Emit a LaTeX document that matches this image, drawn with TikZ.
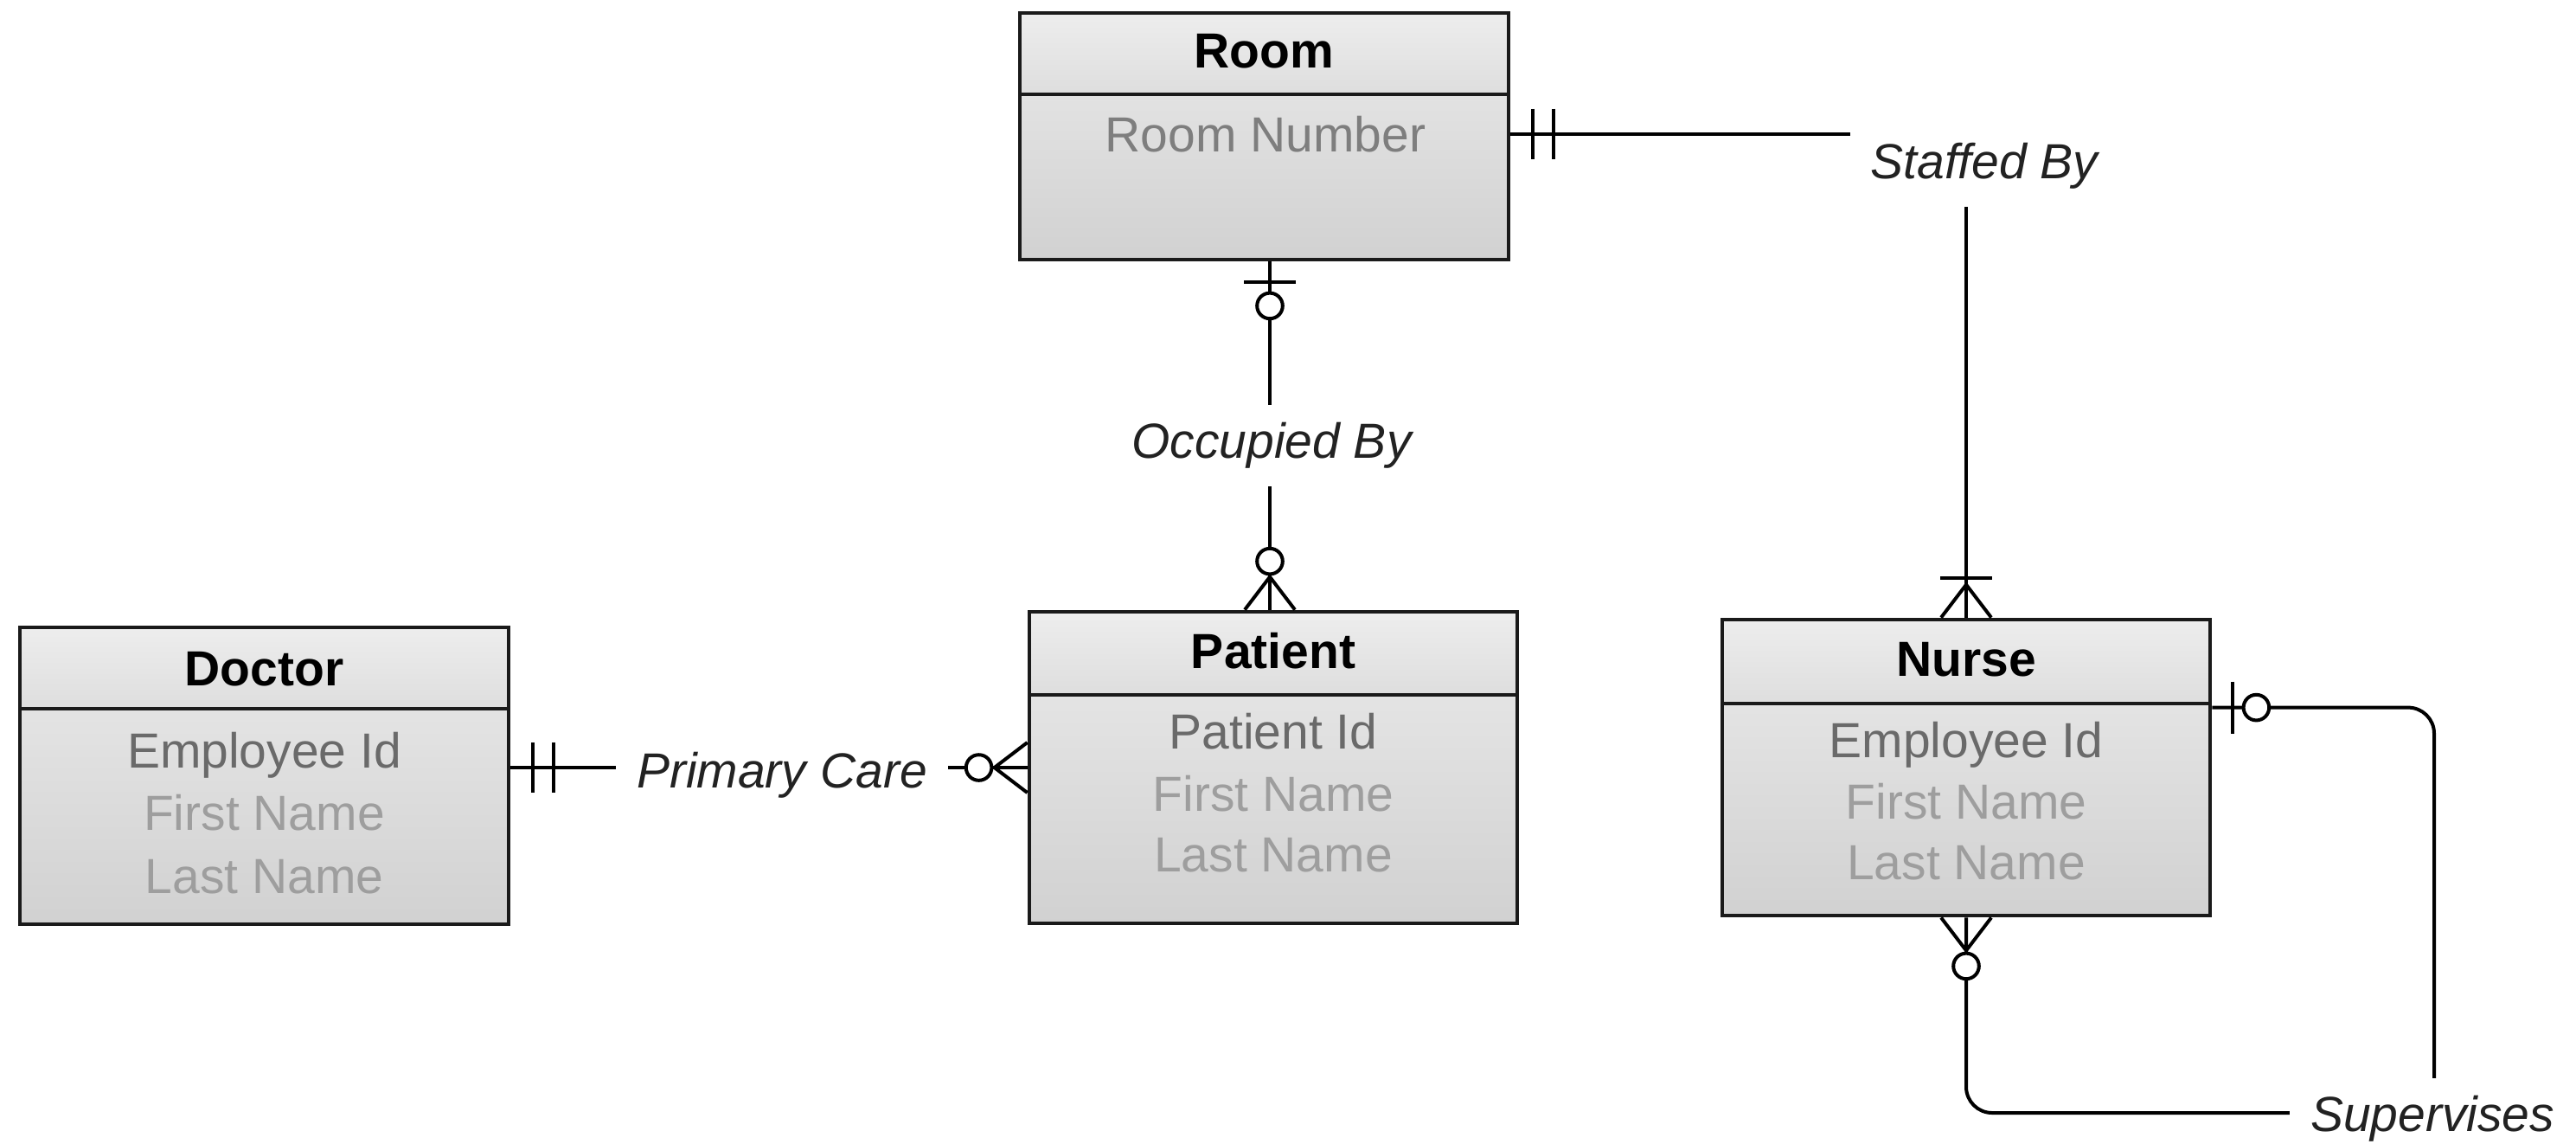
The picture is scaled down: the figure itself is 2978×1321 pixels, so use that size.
\documentclass[tikz,border=0pt]{standalone}
\usepackage{fontspec}
\setmainfont{Liberation Sans}
\usetikzlibrary{calc,fit}

\definecolor{edgeline}{HTML}{1A1A1A}
\definecolor{keytext}{HTML}{6A6A6A}
\definecolor{roomtext}{HTML}{7E7E7E}
\definecolor{attrtext}{HTML}{9E9E9E}
\definecolor{reltext}{HTML}{222222}

\newcommand\erfont{\fontsize{14.25}{17}\selectfont}

\tikzset{
  entity/.style={draw=edgeline, line width=1.2pt, inner sep=0pt,
    top color=black!8, bottom color=black!18},
  entityhead/.style={draw=edgeline, line width=1.2pt, inner sep=0pt,
    top color=black!7, bottom color=black!13},
  title/.style={font=\erfont\bfseries, anchor=base, inner sep=0pt},
  keyattr/.style={font=\erfont, text=keytext, anchor=base, inner sep=0pt},
  attr/.style={font=\erfont, text=attrtext, anchor=base, inner sep=0pt},
  rel/.style={font=\erfont\itshape, text=reltext, fill=white,
    inner xsep=6pt, inner ysep=0pt, minimum height=23.5pt},
  conn/.style={line width=1pt, draw=black},
  ermark/.style={line width=1pt, draw=black},
  % cardinality symbols, drawn outward from the entity along local +x
  onlyone/.pic={\draw[ermark] (26,-29) -- (26,29) (50,-29) -- (50,29);},
  zeroone/.pic={\draw[ermark] (24,-30) -- (24,30);
    \draw[ermark, fill=white] (51,0) circle[radius=3.7pt];},
  zeromany/.pic={\draw[ermark] (0,-29) -- (38,0) -- (0,29);
    \draw[ermark, fill=white] (56,0) circle[radius=3.7pt];},
  onemany/.pic={\draw[ermark] (0,-29) -- (38,0) -- (0,29);
    \draw[ermark] (46,-30) -- (46,30);},
}

\begin{document}
\begin{tikzpicture}[x=0.25pt, y=-0.25pt]
\useasboundingbox (0,0) rectangle (2978,1321);
\fill[white] (0,0) rectangle (2978,1321);

% ---- Room ----
\node[entity, fit={(1179,15)(1744,300)}] (room) {};
\node[entityhead, fit={(1179,15)(1744,109)}] (roomhead) {};
\node[title] (roomtitle) at (1461.5,78) {Room};
\node[font=\erfont, text=roomtext, anchor=base, inner sep=0pt] (roomnum) at (1463,175) {Room Number};

% ---- Patient ----
\node[entity, fit={(1190,707)(1754,1067)}] (patient) {};
\node[entityhead, fit={(1190,707)(1754,803)}] (patienthead) {};
\node[title] (patienttitle) at (1472,772) {Patient};
\node[keyattr] (patientid) at (1472,865) {Patient Id};
\node[attr] (patientfirst) at (1472,937) {First Name};
\node[attr] (patientlast) at (1472,1007) {Last Name};

% ---- Doctor ----
\node[entity, fit={(23,725)(588,1068)}] (doctor) {};
\node[entityhead, fit={(23,725)(588,819)}] (doctorhead) {};
\node[title] (doctortitle) at (305.5,792) {Doctor};
\node[keyattr] (doctorid) at (305.5,887) {Employee Id};
\node[attr] (doctorfirst) at (305.5,959) {First Name};
\node[attr] (doctorlast) at (305.5,1032) {Last Name};

% ---- Nurse ----
\node[entity, fit={(1991,716)(2555,1058)}] (nurse) {};
\node[entityhead, fit={(1991,716)(2555,813)}] (nursehead) {};
\node[title] (nursetitle) at (2273,781) {Nurse};
\node[keyattr] (nurseid) at (2273,875) {Employee Id};
\node[attr] (nursefirst) at (2273,946) {First Name};
\node[attr] (nurselast) at (2273,1016) {Last Name};

% ---- attachment points ----
\coordinate (occx) at (1468,0);
\coordinate (roomright) at ($(room.north east)+(0,142)$);
\coordinate (nurseright) at ($(nurse.north east)+(0,104)$);
\coordinate (supcorner) at (2814,1286);

% ---- connectors ----
\draw[conn] (roomright) -| (nurse.north);
\draw[conn] (room.south -| occx) -- (patient.north -| occx);
\draw[conn] (doctor.east |- patient.west) -- (patient.west);
\draw[conn, rounded corners=7.5pt] (nurseright) -| (supcorner) -| (nurse.south);

% ---- cardinality symbols ----
\pic[rotate=0] at (roomright) {onlyone};
\pic[rotate=90] at (nurse.north) {onemany};
\pic[rotate=-90] at (room.south -| occx) {zeroone};
\pic[rotate=90] at (patient.north -| occx) {zeromany};
\pic[rotate=0] at (doctor.east |- patient.west) {onlyone};
\pic[rotate=180] at (patient.west) {zeromany};
\pic[rotate=0] at (nurseright) {zeroone};
\pic[rotate=-90] at (nurse.south) {zeromany};

% ---- labels over the connectors ----
\node[rel] (staffed) at (2294,192) {Staffed By};
\node[rel] (occupied) at (1470,515) {Occupied By};
\node[rel] (primary) at (904,896) {Primary Care};
\node[rel] (supervises) at (2812,1293) {Supervises};
\end{tikzpicture}
\end{document}
